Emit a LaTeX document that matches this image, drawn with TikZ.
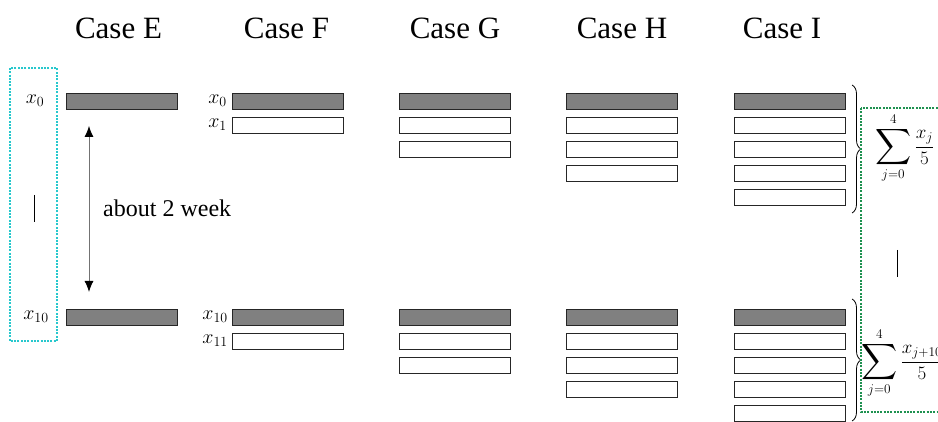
\RequirePackage{fix-cm}
\documentclass[tikz,border=0pt]{standalone}
\usepackage{exscale}
\usepackage{fontspec}
\setmainfont{Liberation Serif}
\usetikzlibrary{arrows.meta,decorations.pathreplacing}
\definecolor{barfill}{RGB}{128,128,128}
\definecolor{cyanbox}{RGB}{40,200,205}
\definecolor{greenbox}{RGB}{30,145,80}
% a large summation sign with limits above and below
\newcommand{\bigsumsign}{\mathop{\vcenter{\hbox{\scalebox{1.45}{$\displaystyle\sum$}}}}\limits}
\begin{document}
\begin{tikzpicture}[x=1pt,y=-1pt,
  bar/.style={draw=black!85,line width=0.9pt,minimum width=111pt,minimum height=16pt,inner sep=0pt,anchor=north west},
  darkbar/.style={bar,fill=barfill},
  lightbar/.style={bar,fill=white},
  casetitle/.style={font=\fontsize{31}{36}\selectfont,anchor=base,inner sep=0pt},
  mlabel/.style={font=\fontsize{20}{24}\selectfont,inner sep=0pt},
  sumlabel/.style={font=\fontsize{19}{23}\selectfont,inner sep=0pt,anchor=west},
  dotbox/.style={line width=2pt,dash pattern=on 2pt off 1.3pt},
  brc/.style={decorate,decoration={brace,amplitude=9pt},line width=0.8pt}]
\useasboundingbox (0,0) rectangle (938,422);
\clip (0,0) rectangle (938,422);

% column titles
\node[casetitle] (tE) at (118.5,39) {Case E};
\node[casetitle] (tF) at (286.5,39) {Case F};
\node[casetitle] (tG) at (455,39) {Case G};
\node[casetitle] (tH) at (622,39) {Case H};
\node[casetitle] (tI) at (782,39) {Case I};

% bars: first one dark, the rest white
\foreach \c/\x/\n in {E/66/1,F/232/2,G/399/3,H/566/4,I/734/5}{
  \node[darkbar] (\c a1) at (\x,93) {};
  \node[darkbar] (\c b1) at (\x,309) {};
  \ifnum\n>1
    \foreach \k in {2,...,\n}{
      \node[lightbar] (\c a\k) at (\x,{93+24*(\k-1)}) {};
      \node[lightbar] (\c b\k) at (\x,{309+24*(\k-1)}) {};
    }
  \fi
}

% labels of case E inside the cyan box
\node[mlabel] (lx0) at (35,101) {$x_0$};
\node[mlabel] (lx10) at (36,317) {$x_{10}$};
\draw[dotbox,cyanbox] (10,68) rectangle (57,341);
\draw[line width=0.8pt] (34,195) -- (34,222);

% labels of case F
\node[mlabel,anchor=east] (fx0) at (227,101) {$x_0$};
\node[mlabel,anchor=east] (fx1) at (227,125) {$x_1$};
\node[mlabel,anchor=east] (fx10) at (228,317) {$x_{10}$};
\node[mlabel,anchor=east] (fx11) at (228,341) {$x_{11}$};

% time span between the two samples
\draw[line width=1pt,black!55,{Latex[length=11pt,width=9pt,black]}-{Latex[length=11pt,width=9pt,black]}]
  ([shift={(23,16)}]Ea1.south west) -- ([shift={(23,-17)}]Eb1.north west);
\node[font=\fontsize{24}{28}\selectfont,anchor=base west,inner sep=0pt] (span) at (103,216.5) {about 2 week};

% averaging over five samples
\draw[brc] (852,85) -- (852,213);
\draw[brc] (852,299) -- (852,421);
\draw[dotbox,greenbox] (861,108) rectangle (950,412);
\node[sumlabel] (s1) at (875,148) {$\displaystyle\bigsumsign_{j=0}^{4}\frac{x_j}{5}$};
\node[sumlabel] (s2) at (861,363) {$\displaystyle\bigsumsign_{j=0}^{4}\frac{x_{j+10}}{5}$};
\draw[line width=0.8pt] (897,250) -- (897,277);
\end{tikzpicture}
\end{document}
